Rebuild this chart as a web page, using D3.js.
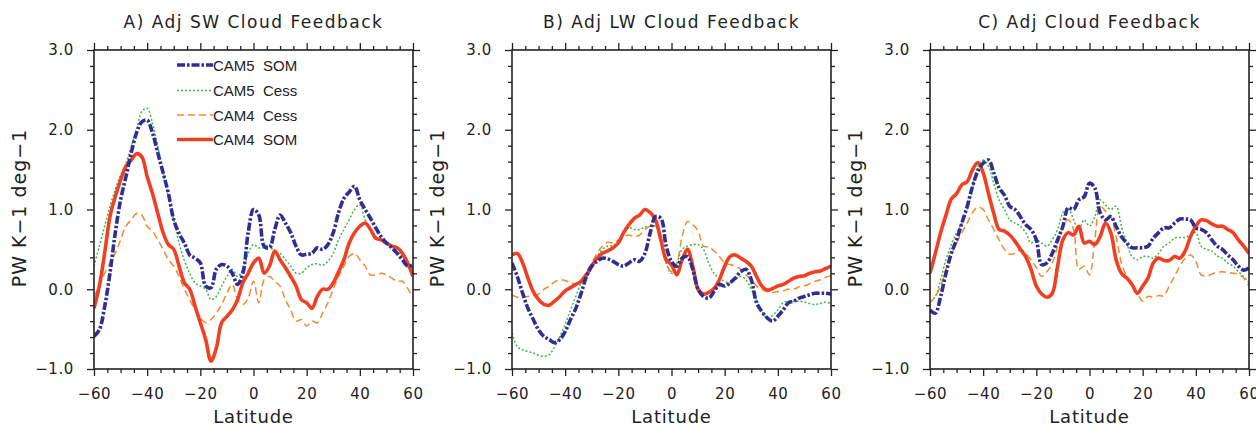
<!DOCTYPE html>
<html>
<head>
<meta charset="utf-8">
<script src="https://cdn.jsdelivr.net/npm/d3@7"></script>
<style>
  body { margin: 0; background: #fff; }
  text { font-family: "DejaVu Sans", sans-serif; fill: #222; }
</style>
</head>
<body>
<div id="chart"></div>
<script>
// latitude grid (deg)
let lats = [-60,-58,-56,-54,-52,-50,-48,-46,-44,-42,-40,-38,-36,-34,-32,-30,-28,-26,-24,-22,-20,
  -18,-16,-14,-12,-10,-8,-6,-4,-2,0,2,4,6,8,10,12,14,16,18,20,22,24,26,28,30,
  32,34,36,38,40,42,44,46,48,50,52,54,56,58,60];

let seriesNames = ['CAM5  SOM', 'CAM5  Cess', 'CAM4  Cess', 'CAM4  SOM'];
let panelTitles = ['A) Adj SW Cloud Feedback', 'B) Adj LW Cloud Feedback', 'C) Adj Cloud Feedback'];
let xTicks = [-60, -40, -20, 0, 20, 40, 60];
let yTicks = [-1, 0, 1, 2, 3];

// A) SW
let swCam5Som = [-0.59,-0.51,-0.22,0.2,0.71,1.12,1.41,1.71,1.96,2.1,2.12,1.96,1.71,1.46,1.2,0.87,0.7,0.58,0.43,0.39,0.33,
  0.04,0.02,0.25,0.31,0.29,0.2,0.06,0.2,0.71,1.0,0.93,0.54,0.52,0.75,0.93,0.83,0.71,0.54,0.43,0.44,0.45,0.52,0.5,0.56,0.71,
  0.96,1.14,1.22,1.29,1.12,1.0,0.89,0.77,0.66,0.58,0.52,0.45,0.37,0.29,0.31];
let swCam5Cess = [0.29,0.54,0.79,1.04,1.25,1.43,1.58,1.79,2.0,2.23,2.27,2.08,1.79,1.46,1.16,0.87,0.58,0.36,0.2,0.08,0.04,
  0.0,-0.13,-0.09,0.04,0.16,0.25,0.16,0.25,0.45,0.56,0.52,0.52,0.56,0.45,0.45,0.37,0.29,0.2,0.2,0.27,0.31,0.32,0.3,0.35,0.45,
  0.62,0.75,0.87,1.0,1.06,0.87,0.75,0.66,0.62,0.58,0.54,0.48,0.41,0.33,0.25];
let swCam4Cess = [-0.09,0.04,0.2,0.33,0.45,0.62,0.79,0.87,0.95,0.93,0.79,0.73,0.62,0.5,0.37,0.29,0.16,0.0,-0.13,-0.26,-0.36,
  -0.42,-0.38,-0.3,-0.19,-0.05,0.06,-0.13,-0.19,-0.11,0.1,-0.17,0.12,0.16,0.1,0.04,-0.13,-0.26,-0.4,-0.38,-0.46,-0.4,-0.42,-0.3,-0.17,0.0,
  0.16,0.29,0.41,0.45,0.37,0.29,0.18,0.18,0.2,0.18,0.14,0.1,0.1,0.01,-0.11];
let swCam4Som = [-0.24,0.04,0.45,0.91,1.16,1.37,1.54,1.62,1.7,1.66,1.41,1.2,0.95,0.71,0.56,0.5,0.29,0.08,0.0,-0.21,-0.42,
  -0.63,-0.9,-0.74,-0.42,-0.34,-0.26,-0.13,0.08,0.2,0.33,0.39,0.2,0.29,0.48,0.37,0.27,0.16,0.04,-0.13,-0.17,-0.24,-0.09,0.0,0.0,0.08,
  0.22,0.37,0.58,0.71,0.79,0.83,0.75,0.64,0.62,0.58,0.54,0.52,0.45,0.33,0.16];

// B) LW
let lwCam5Som = [0.33,0.16,-0.05,-0.24,-0.38,-0.51,-0.59,-0.63,-0.67,-0.63,-0.53,-0.38,-0.24,-0.05,0.16,0.29,0.35,0.39,0.38,0.35,0.31,
  0.29,0.33,0.37,0.35,0.45,0.71,0.91,0.89,0.54,0.35,0.29,0.39,0.41,0.25,0.0,-0.09,-0.11,-0.03,0.06,0.04,0.08,0.14,0.22,0.25,0.12,
  -0.17,-0.28,-0.36,-0.4,-0.34,-0.26,-0.17,-0.15,-0.11,-0.09,-0.07,-0.05,-0.05,-0.05,-0.06];
let lwCam5Cess = [-0.55,-0.72,-0.76,-0.78,-0.8,-0.83,-0.84,-0.82,-0.72,-0.59,-0.44,-0.26,-0.09,0.08,0.2,0.31,0.41,0.5,0.54,0.55,0.6,
  0.71,0.77,0.75,0.75,0.78,0.79,0.79,0.58,0.33,0.2,0.33,0.5,0.54,0.56,0.56,0.5,0.33,0.2,0.14,0.1,0.08,0.12,0.16,0.12,0.0,
  -0.13,-0.28,-0.36,-0.33,-0.26,-0.17,-0.15,-0.15,-0.15,-0.16,-0.18,-0.19,-0.18,-0.16,-0.18];
let lwCam4Cess = [-0.07,-0.1,-0.1,-0.09,-0.08,-0.06,0.0,0.04,0.09,0.12,0.11,0.08,0.07,0.12,0.22,0.33,0.45,0.54,0.59,0.58,0.62,
  0.66,0.68,0.66,0.68,0.75,0.79,0.79,0.62,0.33,0.22,0.33,0.66,0.85,0.81,0.73,0.54,0.53,0.48,0.41,0.33,0.31,0.29,0.25,0.18,0.12,
  0.04,0.0,-0.03,-0.04,-0.03,-0.02,0.0,0.0,0.03,0.04,0.07,0.1,0.12,0.15,0.17];
let lwCam4Som = [0.43,0.45,0.33,0.14,-0.03,-0.13,-0.19,-0.2,-0.15,-0.09,-0.02,0.02,0.06,0.1,0.18,0.29,0.39,0.45,0.48,0.52,0.58,
  0.71,0.81,0.89,0.93,1.0,0.96,0.87,0.62,0.37,0.31,0.18,0.37,0.5,0.29,0.0,-0.06,-0.04,0.01,0.12,0.29,0.41,0.43,0.39,0.35,0.29,
  0.16,0.04,-0.01,0.01,0.04,0.06,0.1,0.14,0.16,0.17,0.2,0.22,0.23,0.26,0.29];

// C) SW + LW
let netCam5Som = [-0.26,-0.3,-0.09,0.2,0.45,0.62,0.83,1.04,1.29,1.48,1.58,1.62,1.46,1.27,1.18,1.04,1.0,0.91,0.81,0.75,0.62,
  0.31,0.33,0.45,0.62,0.79,1.02,1.0,1.12,1.16,1.33,1.27,0.96,0.87,0.91,0.79,0.66,0.58,0.52,0.52,0.52,0.54,0.64,0.71,0.77,0.77,
  0.83,0.88,0.88,0.87,0.77,0.75,0.71,0.62,0.54,0.5,0.43,0.37,0.29,0.24,0.27];
let netCam5Cess = [-0.15,-0.09,0.12,0.37,0.56,0.71,0.83,1.0,1.27,1.54,1.62,1.54,1.33,1.12,1.0,0.87,0.83,0.79,0.71,0.58,0.62,
  0.58,0.54,0.62,0.75,0.96,1.02,0.87,0.75,0.87,0.79,0.91,1.12,1.06,1.0,1.04,0.79,0.58,0.41,0.37,0.41,0.41,0.39,0.45,0.54,0.58,
  0.64,0.65,0.65,0.68,0.71,0.54,0.5,0.48,0.42,0.39,0.33,0.29,0.22,0.16,0.08];
let netCam4Cess = [-0.17,-0.09,0.04,0.25,0.43,0.58,0.71,0.83,0.96,1.03,1.0,0.87,0.75,0.62,0.5,0.44,0.45,0.5,0.45,0.37,0.27,
  0.16,0.22,0.33,0.54,0.79,0.87,0.75,0.25,0.29,0.18,0.62,1.04,0.98,0.91,0.66,0.33,0.16,0.04,-0.05,-0.15,-0.09,-0.1,-0.08,-0.08,0.04,
  0.16,0.29,0.39,0.43,0.35,0.18,0.17,0.19,0.21,0.22,0.21,0.2,0.19,0.14,0.04];
let netCam4Som = [0.2,0.45,0.71,0.93,1.13,1.2,1.31,1.35,1.5,1.59,1.46,1.2,0.95,0.75,0.73,0.68,0.6,0.5,0.41,0.25,0.04,
  -0.06,-0.1,-0.05,0.29,0.62,0.71,0.68,0.79,0.58,0.6,0.56,0.66,0.83,0.71,0.37,0.2,0.14,0.06,-0.05,0.04,0.14,0.33,0.39,0.36,0.36,
  0.41,0.39,0.48,0.66,0.79,0.87,0.86,0.82,0.79,0.79,0.75,0.71,0.62,0.54,0.45];

let panelData = [
  [swCam5Som, swCam5Cess, swCam4Cess, swCam4Som],
  [lwCam5Som, lwCam5Cess, lwCam4Cess, lwCam4Som],
  [netCam5Som, netCam5Cess, netCam4Cess, netCam4Som]
];

let width = 1256, height = 427;
let plotLefts = [94, 512, 930];
let plotW = 319, plotTop = 50, plotBottom = 369;

// line looks, same order as seriesNames
let looks = [
  { color: '#302e92', width: 3.6, dash: '8,2,2.5,2' },
  { color: '#3cb843', width: 1.5, dash: '2,2' },
  { color: '#f28a2e', width: 1.5, dash: '7,4' },
  { color: '#ef4023', width: 3.6, dash: null }
];
let drawOrder = [1, 2, 3, 0];

let svg = d3.select('#chart')
  .append('svg')
  .attr('width', width)
  .attr('height', height)
  .style('background', 'white');

let yscale = d3.scaleLinear().domain([-1, 3]).range([plotBottom, plotTop]);
let minorX = d3.range(-60, 61, 5).filter(d => d % 20 !== 0);
let minorY = d3.range(-1, 3.01, 0.2).filter(d => Math.abs(d - Math.round(d)) > 0.01);

panelData.forEach((series, p) => {
  let left = plotLefts[p];
  let xscale = d3.scaleLinear().domain([-60, 60]).range([left, left + plotW]);
  let g = svg.append('g');

  g.append('clipPath').attr('id', 'clip' + p)
    .append('rect')
    .attr('x', left).attr('y', plotTop)
    .attr('width', plotW).attr('height', plotBottom - plotTop);

  // ticks on all four sides, pointing outward
  let tickSets = [
    [d3.axisBottom(xscale).tickValues(xTicks).tickSize(7).tickPadding(12).tickFormat(d3.format('d')), `translate(0,${plotBottom})`],
    [d3.axisBottom(xscale).tickValues(minorX).tickSize(4).tickFormat(''), `translate(0,${plotBottom})`],
    [d3.axisTop(xscale).tickValues(xTicks).tickSize(7).tickFormat(''), `translate(0,${plotTop})`],
    [d3.axisTop(xscale).tickValues(minorX).tickSize(4).tickFormat(''), `translate(0,${plotTop})`],
    [d3.axisLeft(yscale).tickValues(yTicks).tickSize(7).tickPadding(13).tickFormat(d3.format('.1f')), `translate(${left},0)`],
    [d3.axisLeft(yscale).tickValues(minorY).tickSize(4).tickFormat(''), `translate(${left},0)`],
    [d3.axisRight(yscale).tickValues(yTicks).tickSize(7).tickFormat(''), `translate(${left + plotW},0)`],
    [d3.axisRight(yscale).tickValues(minorY).tickSize(4).tickFormat(''), `translate(${left + plotW},0)`]
  ];
  tickSets.forEach(([axis, tr]) => {
    let a = g.append('g').attr('transform', tr).call(axis);
    a.select('.domain').remove();
    a.selectAll('line').attr('stroke', '#222').attr('stroke-width', 1.3);
    a.selectAll('text')
      .style('font-size', '15px')
      .style('letter-spacing', '0.6px')
      .style('font-family', '"DejaVu Sans", sans-serif')
      .attr('fill', '#2a2a2a');
  });

  // series lines
  let line = d3.line()
    .x((d, i) => xscale(lats[i]))
    .y(d => yscale(d))
    .curve(d3.curveCatmullRom.alpha(0.5));

  drawOrder.forEach(k => {
    let lk = looks[k];
    g.append('path')
      .datum(series[k])
      .attr('clip-path', `url(#clip${p})`)
      .attr('d', line)
      .attr('fill', 'none')
      .attr('stroke', lk.color)
      .attr('stroke-width', lk.width)
      .attr('stroke-dasharray', lk.dash)
      .attr('stroke-linejoin', 'round');
  });

  // frame
  g.append('rect')
    .attr('x', left).attr('y', plotTop)
    .attr('width', plotW).attr('height', plotBottom - plotTop)
    .attr('fill', 'none')
    .attr('stroke', '#222')
    .attr('stroke-width', 1.6);

  // title and axis labels
  g.append('text')
    .text(panelTitles[p])
    .attr('x', left + plotW / 2)
    .attr('y', 28)
    .attr('text-anchor', 'middle')
    .style('font-size', '17px')
    .style('letter-spacing', '1.5px');

  g.append('text')
    .text('Latitude')
    .attr('x', left + plotW / 2)
    .attr('y', 423)
    .attr('text-anchor', 'middle')
    .style('font-size', '18px')
    .style('letter-spacing', '0.8px');

  g.append('text')
    .text('PW K\u22121 deg\u22121')
    .attr('transform', `translate(${left - 68},${208}) rotate(-90)`)
    .attr('text-anchor', 'middle')
    .style('font-size', '19px')
    .style('letter-spacing', '1px');
});

// legend, panel A
let legendRows = [65, 90.5, 115, 139.5];
let leg = svg.append('g');
seriesNames.forEach((name, k) => {
  let lk = looks[k];
  leg.append('line')
    .attr('x1', 177).attr('x2', 213)
    .attr('y1', legendRows[k]).attr('y2', legendRows[k])
    .attr('stroke', lk.color)
    .attr('stroke-width', lk.width)
    .attr('stroke-dasharray', lk.dash);
  leg.append('text')
    .text(name)
    .attr('x', 213)
    .attr('y', legendRows[k] + 5.5)
    .style('font-family', '"Liberation Sans", Arial, sans-serif')
    .style('font-size', '15px')
    .style('white-space', 'pre')
    .attr('xml:space', 'preserve');
});
</script>
</body>
</html>
